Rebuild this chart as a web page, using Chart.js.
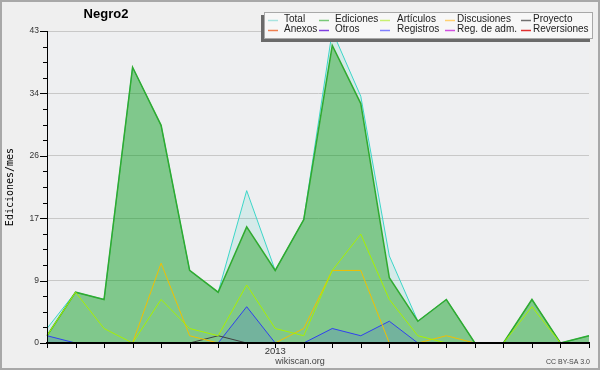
<!DOCTYPE html>
<html>
<head>
<meta charset="utf-8">
<script src="https://cdn.jsdelivr.net/npm/chart.js@4/dist/chart.umd.min.js"></script>
<style>
  html, body { margin: 0; padding: 0; background: #efefef; }
  #wrap { width: 600px; height: 370px; }
</style>
</head>
<body>
<div id="wrap"><canvas id="chart" width="600" height="370"></canvas></div>
<script>
// Months May 2012 -> Dec 2013
const months = ['2012-05','2012-06','2012-07','2012-08','2012-09','2012-10','2012-11','2012-12',
                '2013-01','2013-02','2013-03','2013-04','2013-05','2013-06','2013-07','2013-08',
                '2013-09','2013-10','2013-11','2013-12'];
const xTickLabels = ['','','','','','','','','2013','','','','','','','','','','',''];

// Y ticks (5 equal steps up to the max, labels rounded)
const yTickValues = [0, 8.6, 17.2, 25.8, 34.4, 43];
const yTickLabels = ['0', '9', '17', '26', '34', '43'];

// Series
const total       = [2, 7, 6, 38, 30, 10, 7, 21, 10, 17, 43, 34, 12, 3, 6, 0, 0, 6, 0, 1];
const ediciones   = [1, 7, 6, 38, 30, 10, 7, 16, 10, 17, 41, 33, 9, 3, 6, 0, 0, 6, 0, 1];
const articulos   = [1, 7, 2, 0, 6, 2, 1, 8, 2, 1, 10, 15, 6, 1, 0, 0, 0, 5, 0, 0];
const discusiones = [0, 0, 0, 0, 11, 1, 0, 0, 0, 2, 10, 10, 0, 0, 1, 0, 0, 0, 0, 0];
const proyecto    = [0, 0, 0, 0, 0, 0, 1, 0, 0, 0, 0, 0, 0, 0, 0, 0, 0, 0, 0, 0];
const registros   = [1, 0, 0, 0, 0, 0, 0, 5, 0, 0, 2, 1, 3, 0, 0, 0, 0, 0, 0, 0];

// Legend (two rows of five)
const legendNames  = ['Total', 'Ediciones', 'Artículos', 'Discusiones', 'Proyecto',
                      'Anexos', 'Otros', 'Registros', 'Reg. de adm.', 'Reversiones'];
const legendColors = ['#a8e4e0', '#78c878', '#c8f070', '#ffd070', '#707070',
                      '#f08050', '#8040e0', '#8080ff', '#d050e0', '#e03030'];

const FONT = "'Liberation Sans', Arial, sans-serif";

// Background, frame
const backgroundPlugin = {
    id: 'background',
    beforeDraw: (chart) => {
        const ctx = chart.ctx;
        const a = chart.chartArea;
        ctx.save();
        ctx.fillStyle = '#efefef';
        ctx.fillRect(0, 0, chart.width, chart.height);
        ctx.fillStyle = '#eeeff1';
        ctx.fillRect(a.left, a.top, a.right - a.left, a.bottom - a.top);
        ctx.restore();
    }
};

// Tick marks, title, legend, footer texts
const decorPlugin = {
    id: 'decor',
    afterDraw: (chart) => {
        const ctx = chart.ctx;
        const x = chart.scales.x;
        const y = chart.scales.y;
        const a = chart.chartArea;
        ctx.save();

        // y ticks: major + 3 minor
        ctx.strokeStyle = '#000';
        ctx.lineWidth = 1;
        for (let i = 0; i <= 20; i++) {
            const py = Math.round(y.getPixelForValue(i * 43 / 20)) + 0.5;
            const len = (i % 4 === 0) ? 7 : 4;
            ctx.beginPath();
            ctx.moveTo(a.left - len, py);
            ctx.lineTo(a.left, py);
            ctx.stroke();
        }
        // x ticks
        for (let i = 0; i < months.length; i++) {
            const px = Math.round(x.getPixelForValue(i)) + 0.5;
            ctx.beginPath();
            ctx.moveTo(px, a.bottom);
            ctx.lineTo(px, a.bottom + 5);
            ctx.stroke();
        }

        // title
        ctx.fillStyle = '#000';
        ctx.font = 'bold 13px ' + FONT;
        ctx.textAlign = 'center';
        ctx.textBaseline = 'middle';
        ctx.fillText('Negro2', 106, 14);

        // legend box
        ctx.fillStyle = '#6a6a6a';
        ctx.fillRect(261, 15, 329, 27);
        ctx.fillStyle = '#f7f7f7';
        ctx.fillRect(264, 12, 329, 27);
        ctx.strokeStyle = '#a8a8a8';
        ctx.strokeRect(264.5, 12.5, 328, 26);

        const swatchX = [268, 319, 380, 445, 521];
        const textX = [284, 335, 397, 457, 533];
        const rowY = [19.5, 29.5];
        ctx.font = '10px ' + FONT;
        ctx.textAlign = 'left';
        legendNames.forEach((name, i) => {
            const col = i % 5;
            const row = Math.floor(i / 5);
            ctx.strokeStyle = legendColors[i];
            ctx.lineWidth = 1.5;
            ctx.beginPath();
            ctx.moveTo(swatchX[col], Math.round(rowY[row]) + 0.5);
            ctx.lineTo(swatchX[col] + 10, Math.round(rowY[row]) + 0.5);
            ctx.stroke();
            ctx.fillStyle = '#222';
            ctx.fillText(name, textX[col], rowY[row]);
        });

        // footer
        ctx.fillStyle = '#444';
        ctx.font = '9px ' + FONT;
        ctx.textAlign = 'center';
        ctx.fillText('wikiscan.org', 300, 362);
        ctx.font = '7px ' + FONT;
        ctx.textAlign = 'right';
        ctx.fillText('CC BY-SA 3.0', 590, 362);

        // outer frame
        ctx.strokeStyle = '#a8a8a8';
        ctx.lineWidth = 2;
        ctx.strokeRect(1, 1, chart.width - 2, chart.height - 2);
        ctx.restore();
    }
};

const lineSet = (label, data, color, width, fill, order) => ({
    label: label,
    data: data,
    borderColor: color,
    borderWidth: width,
    backgroundColor: fill || 'transparent',
    fill: fill ? 'origin' : false,
    pointRadius: 0,
    tension: 0,
    order: order
});

new Chart(document.getElementById('chart').getContext('2d'), {
    type: 'line',
    data: {
        labels: months,
        datasets: [
            lineSet('Total', total, '#3cd6c8', 1, 'rgba(0,200,170,0.10)', 6),
            lineSet('Ediciones', ediciones, '#30aa30', 1.5, 'rgba(0,150,0,0.4)', 5),
            lineSet('Registros', registros, '#3040f0', 1, 'rgba(40,60,255,0.15)', 4),
            lineSet('Proyecto', proyecto, '#404040', 1, null, 3),
            lineSet('Discusiones', discusiones, '#f0c000', 1, null, 2),
            lineSet('Artículos', articulos, '#a8f000', 1, null, 1)
        ]
    },
    options: {
        responsive: false,
        devicePixelRatio: 1,
        animation: false,
        layout: { padding: { top: 31, right: 11, bottom: 0, left: 0 } },
        plugins: {
            legend: { display: false },
            title: { display: false },
            tooltip: { enabled: false }
        },
        scales: {
            x: {
                offset: false,
                grid: { drawOnChartArea: false, drawTicks: false },
                // axis line on top of the zero-valued lines
                border: { color: '#000', width: 2, z: 1 },
                ticks: {
                    autoSkip: false,
                    maxRotation: 0,
                    padding: 3,
                    color: '#333',
                    font: { family: FONT, size: 9.5 },
                    callback: (v, i) => xTickLabels[i]
                },
                afterFit: (s) => { s.height = 27; }
            },
            y: {
                min: 0,
                max: 43,
                afterBuildTicks: (s) => { s.ticks = yTickValues.map(v => ({ value: v })); },
                grid: { color: '#c8c8c8', drawTicks: false },
                border: { color: '#000', width: 1, z: 1 },
                ticks: {
                    padding: 8,
                    color: '#333',
                    font: { family: FONT, size: 8.5 },
                    callback: (v, i) => yTickLabels[i]
                },
                title: {
                    display: true,
                    text: 'Ediciones/mes',
                    color: '#000',
                    font: { family: "'DejaVu Sans Mono', monospace", size: 10 },
                    padding: 4
                },
                afterFit: (s) => { s.width = 47; }
            }
        }
    },
    plugins: [backgroundPlugin, decorPlugin]
});
</script>
</body>
</html>
